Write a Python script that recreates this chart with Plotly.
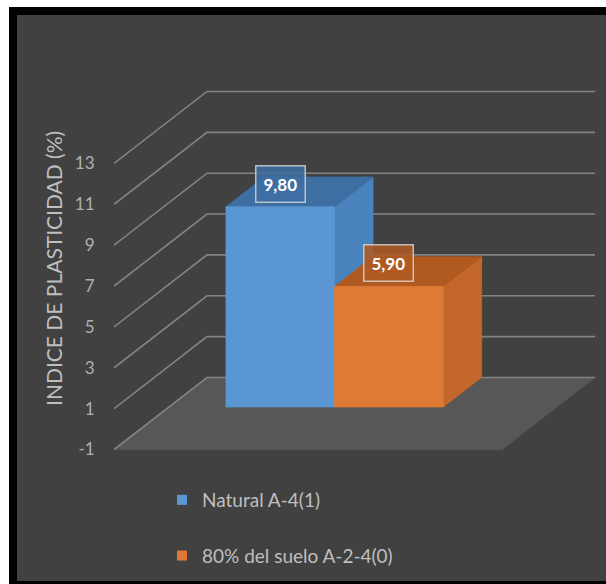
import plotly.graph_objects as go

# --- data -------------------------------------------------------------
series_names = ["Natural A-4(1)", "80% del suelo A-2-4(0)"]
values = [9.80, 5.90]
value_labels = ["9,80", "5,90"]
tick_values = [-1, 1, 3, 5, 7, 9, 11, 13]
tick_labels = ["-1", "1", "3", "5", "7", "9", "11", "13"]
axis_title = "INDICE DE PLASTICIDAD (%)"

# --- styling ----------------------------------------------------------
front_colors = ["#5a97d2", "#df7a35"]
top_colors = ["#3e6fa3", "#b05a22"]
side_colors = ["#4a82bd", "#c4672b"]
label_bg = ["rgba(62,111,163,0.85)", "rgba(176,90,34,0.85)"]
bg_color = "#414141"
floor_color = "#575757"
grid_color = "#848484"
text_color = "#bfbfbf"
font_family = "Lato, 'Liberation Sans', sans-serif"

W, H = 606, 584
Y_MIN = tick_values[0]

# pseudo-3D geometry (oblique projection)
PLOT_LEFT_PX = 114        # front-left corner of the floor
FLOOR_FRONT_PX = 449.5    # pixel row of the front edge of the floor
PX_PER_UNIT = 20.43       # vertical pixels per value unit
X_PX = 388                # width of the floor front edge in pixels
DEPTH_DX = 93 / X_PX      # x shift for full depth (category units)
DEPTH_DY = 72 / PX_PER_UNIT  # y shift for full depth (value units)

GAP = 0.215               # space before first bar (category units)
BAR_W = 0.28
T0, T1 = 0.307, 0.72      # bar depth span (0 = front, 1 = back)

y_range = [Y_MIN - (H - FLOOR_FRONT_PX) / PX_PER_UNIT,
           Y_MIN + FLOOR_FRONT_PX / PX_PER_UNIT]
x_range = [0, (W - PLOT_LEFT_PX) / X_PX]


def proj(x, v, t):
    return x + DEPTH_DX * t, v + DEPTH_DY * t


def poly(points, color, line_color=None, width=0.8):
    xs = [p[0] for p in points] + [points[0][0]]
    ys = [p[1] for p in points] + [points[0][1]]
    return go.Scatter(x=xs, y=ys, mode="lines", fill="toself",
                      fillcolor=color,
                      line=dict(color=line_color or color, width=width),
                      showlegend=False, hoverinfo="skip")


fig = go.Figure()

# floor
fig.add_trace(poly([proj(0, Y_MIN, 0), proj(1, Y_MIN, 0),
                    proj(1, Y_MIN, 1), proj(0, Y_MIN, 1)], floor_color))

# side-wall diagonals and back-wall gridlines
for v in tick_values:
    pts = [proj(0, v, 0), proj(0, v, 1), proj(1, v, 1)]
    fig.add_trace(go.Scatter(x=[p[0] for p in pts], y=[p[1] for p in pts],
                             mode="lines",
                             line=dict(color=grid_color, width=1.6),
                             showlegend=False, hoverinfo="skip"))

# bars
for i, val in enumerate(values):
    x0 = GAP + i * BAR_W
    x1 = x0 + BAR_W
    side = [proj(x1, 0, T0), proj(x1, 0, T1), proj(x1, val, T1), proj(x1, val, T0)]
    top = [proj(x0, val, T0), proj(x1, val, T0), proj(x1, val, T1), proj(x0, val, T1)]
    front = [proj(x0, 0, T0), proj(x1, 0, T0), proj(x1, val, T0), proj(x0, val, T0)]
    fig.add_trace(poly(side, side_colors[i]))
    fig.add_trace(poly(top, top_colors[i]))
    fig.add_trace(poly(front, front_colors[i]))

    lx, ly = proj((x0 + x1) / 2, val, T0)
    fig.add_annotation(x=lx, y=ly, yshift=23, text="<b>%s</b>" % value_labels[i],
                       showarrow=False,
                       font=dict(family=font_family, size=17, color="white"),
                       bgcolor=label_bg[i],
                       bordercolor="rgba(225,225,225,0.75)", borderwidth=1.5,
                       borderpad=7)

# legend entries
for i, name in enumerate(series_names):
    fig.add_trace(go.Scatter(x=[None], y=[None], mode="markers", name=name,
                             legendgroup=str(i),
                             marker=dict(symbol="square", size=10,
                                         color=front_colors[i])))

# value-axis title
fig.add_annotation(x=39 / W, y=1 - 268.5 / H, xref="paper", yref="paper",
                   text=axis_title, textangle=-90, showarrow=False,
                   font=dict(family=font_family, size=21, color=text_color))

# chart frame
fig.add_shape(type="rect", xref="paper", yref="paper", layer="below",
              x0=9 / W, x1=1, y0=0, y1=1 - 7 / H,
              fillcolor="black", line=dict(width=0))
fig.add_shape(type="rect", xref="paper", yref="paper", layer="below",
              x0=17 / W, x1=1, y0=3 / H, y1=1 - 15 / H,
              fillcolor=bg_color, line=dict(width=0))

fig.update_layout(
    width=W, height=H, autosize=False,
    margin=dict(l=0, r=0, t=0, b=0),
    paper_bgcolor="white", plot_bgcolor="rgba(0,0,0,0)",
    font=dict(family=font_family, color=text_color),
    xaxis=dict(range=x_range, domain=[PLOT_LEFT_PX / W, 1], visible=False,
               fixedrange=True),
    yaxis=dict(range=y_range, tickvals=tick_values, ticktext=tick_labels,
               showgrid=False, zeroline=False, showline=False,
               ticks="outside", ticklen=15, tickcolor="rgba(0,0,0,0)",
               tickfont=dict(family=font_family, size=17, color="#b0b0b0"),
               fixedrange=True),
    legend=dict(x=162 / W, y=1 - 481 / H, xanchor="left", yanchor="top",
                tracegroupgap=28, bgcolor="rgba(0,0,0,0)",
                font=dict(family=font_family, size=19, color=text_color)),
    showlegend=True,
)

fig.write_html("out.html")
